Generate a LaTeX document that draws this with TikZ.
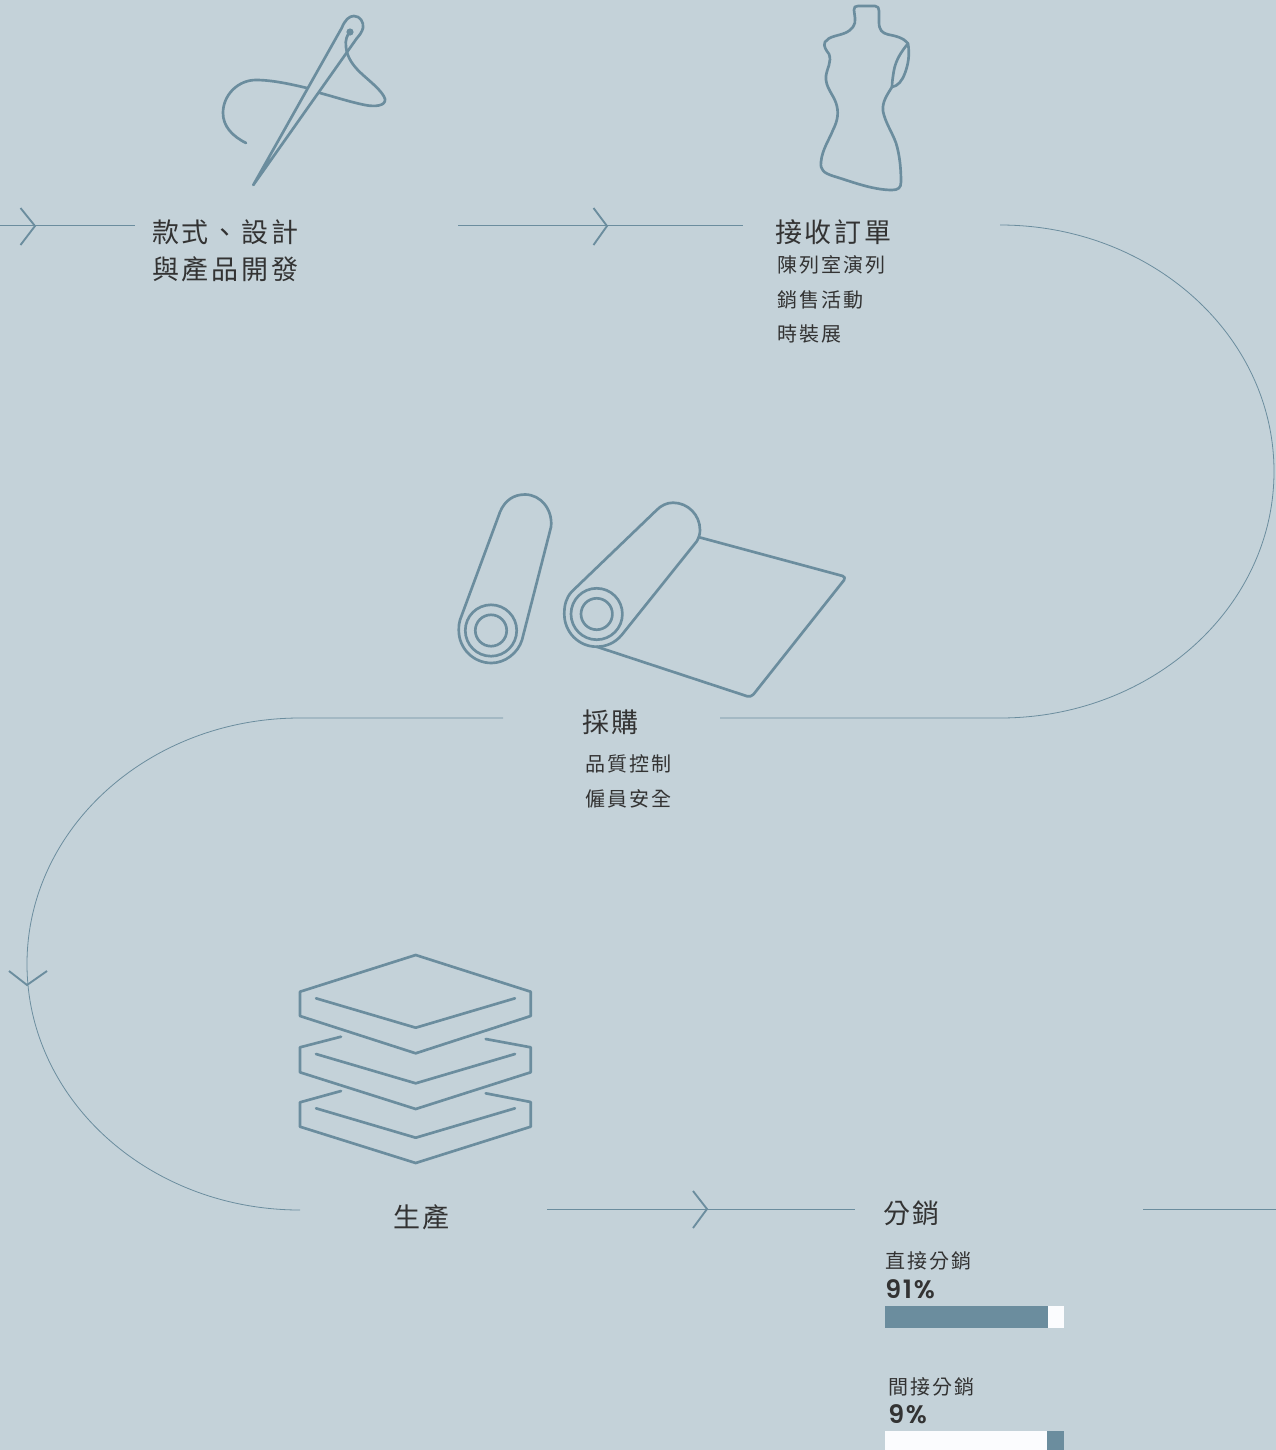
\documentclass[tikz,border=0pt]{standalone}
\usepackage{fontspec}
\newfontfamily\cjktitle[LetterSpace=10]{Noto Sans CJK TC}
\newfontfamily\cjksub[LetterSpace=10]{Noto Sans CJK TC}
\newfontfamily\numfont[LetterSpace=7]{Poppins SemiBold}
\definecolor{bgc}{HTML}{C4D2D9}
\definecolor{teal}{HTML}{6B8D9E}
\definecolor{barw}{HTML}{FBFCFE}
\definecolor{ink}{HTML}{333333}
\tikzset{
  flow/.style={draw=teal,line width=0.6pt},
  chev/.style={draw=teal,line width=1.4pt,line join=miter},
  icon/.style={draw=teal,line width=2pt,line join=round,line cap=round},
  titletext/.style={anchor=west,inner sep=0,text=ink,font=\cjktitle\fontsize{20.25pt}{24pt}\selectfont},
  subtext/.style={anchor=west,inner sep=0,text=ink,font=\cjksub\fontsize{15pt}{18pt}\selectfont},
  numtext/.style={anchor=west,inner sep=0,text=ink,font=\numfont\fontsize{19pt}{20pt}\selectfont},
}
\begin{document}
\begin{tikzpicture}[x=0.75pt,y=-0.75pt]
\fill[bgc] (0,0) rectangle (1276,1450);
\useasboundingbox (0,0) rectangle (1276,1450);

% flow coordinates
\coordinate (a0) at (0,225);
\coordinate (a1) at (135,225);
\coordinate (b0) at (458,225);
\coordinate (b1) at (743,225);
\coordinate (c0) at (1000,225);
\coordinate (c2) at (720,718);
\coordinate (d0) at (503,718);
\coordinate (d1) at (300,718);
\coordinate (e0) at (547,1209);
\coordinate (e1) at (855,1209);
\coordinate (f0) at (1143,1209);
\coordinate (f1) at (1276,1209);

\draw[flow] (a0) -- (a1);
\draw[flow] (b0) -- (b1);
\draw[flow] (c0) arc[start angle=-90,end angle=90,x radius=274,y radius=246.5] -- (c2);
\draw[flow] (d0) -- (d1) arc[start angle=-90,end angle=-270,x radius=273,y radius=246];
\draw[flow] (e0) -- (e1);
\draw[flow] (f0) -- (f1);

% chevrons
\draw[chev] (20.5,208) -- (35,226) -- (20.5,245);
\draw[chev] (593.5,208) -- (607,226) -- (593.5,245);
\draw[chev] (693,1191) -- (707,1209) -- (693,1228);
\draw[chev] (9,971) -- (27,985) -- (47,971);

% needle
\draw[icon] (253.3,185) -- (341.7,28) .. controls (345,20) and (349,16) .. (354,16)
  .. controls (360,16) and (364,22) .. (363,28) .. controls (362,32) and (359,36) .. (357,38) -- cycle;
\draw[icon] (246,143) .. controls (232,136) and (223,126) .. (223,113)
  .. controls (223,95) and (238,80) .. (256,80) .. controls (272,80) and (290,84) .. (307,88);
\draw[icon] (320,93) .. controls (335,97) and (350,102) .. (365,105)
  .. controls (375,107) and (386,106) .. (385,99) .. controls (383,92) and (372,83) .. (363,75)
  .. controls (354,67) and (347,58) .. (346,47) .. controls (345,40) and (347,35) .. (350,32);
\fill[teal] (350,32) circle (3.6);

% dress form
\draw[icon] (854,10) .. controls (854,7) and (855,6) .. (858,6) -- (875,6)
  .. controls (878,6) and (879,8) .. (879,11) -- (879,22)
  .. controls (879,30) and (882,33) .. (888,34.5) .. controls (896,36) and (904,38) .. (908,43.5)
  .. controls (910,55) and (908,65) .. (905,73) .. controls (902,81) and (898,86) .. (892,87)
  .. controls (887,95) and (882,102) .. (883,111) .. controls (885,122) and (892,132) .. (896,143)
  .. controls (900,156) and (901,170) .. (901,182) .. controls (901,188) and (898,190) .. (892,190)
  .. controls (872,190) and (850,181) .. (833,176) .. controls (824,173) and (820,170) .. (821,162)
  .. controls (822,150) and (829,140) .. (833,130) .. controls (838,120) and (839,112) .. (836,103)
  .. controls (833,94) and (825,87) .. (826,76) .. controls (827,68) and (832,62) .. (829,54)
  .. controls (826,50) and (823,46) .. (825,42) .. controls (829,36) and (838,36) .. (845,33)
  .. controls (852,30) and (856,25) .. (855,18) -- cycle;
\draw[icon] (908,43.5) .. controls (901,52) and (896,60) .. (894,70) .. controls (893,76) and (892,82) .. (892,87);

% small roll
\draw[icon] (491,630.5) circle (15.7);
\draw[icon] (491,630.5) circle (25.7);
\draw[icon] (460,620) -- (500,512) .. controls (505,500) and (514,494.5) .. (525,494.5)
  .. controls (541,494.5) and (553,510) .. (551,527) -- (522,640)
  .. controls (518,653) and (505,663) .. (491.5,663) .. controls (473,663) and (458.8,648) .. (458.8,630.5)
  .. controls (458.8,626) and (459,623) .. (460,620);

% large roll
\draw[icon] (596.7,614) circle (15.7);
\draw[icon] (596.7,614) circle (25.7);
\draw[icon] (571.7,591.7) -- (656.7,510) .. controls (661,505.5) and (667,502.7) .. (673,502.7)
  .. controls (688,502.7) and (700,515) .. (700,530) .. controls (700,534) and (699,537) .. (697,541)
  -- (621.7,635) .. controls (615,643) and (606,646.7) .. (596.7,646.7)
  .. controls (578.5,646.7) and (564.3,632) .. (564.3,614) .. controls (564.3,605) and (566,598) .. (571.7,591.7);
\draw[icon,rounded corners=3] (699.3,537.3) -- (846.5,577) -- (751,697.5) -- (596.7,646.7);

% stack
\draw[icon] (415.7,955) -- (300,991.7) -- (300,1016) -- (415.7,1053.3) -- (530.7,1016) -- (530.7,991.7) -- cycle;
\draw[icon] (316,998.3) -- (415.7,1027.7) -- (515,998.3);
\draw[icon] (341,1036.7) -- (300,1047.3) -- (300,1072.3) -- (415.7,1109) -- (530.7,1072.3) -- (530.7,1047.3) -- (485.7,1039);
\draw[icon] (316,1054) -- (415.7,1083.3) -- (515,1054);
\draw[icon] (341,1091) -- (300,1102.3) -- (300,1126.7) -- (415.7,1163) -- (530.7,1126.7) -- (530.7,1102) -- (485.7,1093.3);
\draw[icon] (316,1108.3) -- (415.7,1137.7) -- (515,1108.3);

% bars
\fill[teal] (885,1306) rectangle (1048,1328);
\fill[barw] (1048,1306) rectangle (1064,1328);
\fill[barw] (885,1431) rectangle (1047,1450);
\fill[teal] (1047,1431) rectangle (1064,1450);

% texts
\node[titletext] (t1a) at (152,232) {款式、設計};
\node[titletext] (t1b) at (152,269) {與產品開發};
\node[titletext] (t2) at (775,232) {接收訂單};
\node[subtext] (s2a) at (777,265) {陳列室演列};
\node[subtext] (s2b) at (777,300) {銷售活動};
\node[subtext] (s2c) at (777,334) {時裝展};
\node[titletext] (t3) at (582,722) {採購};
\node[subtext] (s3a) at (585,764) {品質控制};
\node[subtext] (s3b) at (585,799) {僱員安全};
\node[titletext] (t4) at (393,1217) {生產};
\node[titletext] (t5) at (883,1213.5) {分銷};
\node[subtext] (s5a) at (885,1261) {直接分銷};
\node[numtext] (n5a) at (885,1289) {91\%};
\node[subtext] (s5b) at (888,1387) {間接分銷};
\node[numtext] (n5b) at (888,1414) {9\%};
\end{tikzpicture}
\end{document}
